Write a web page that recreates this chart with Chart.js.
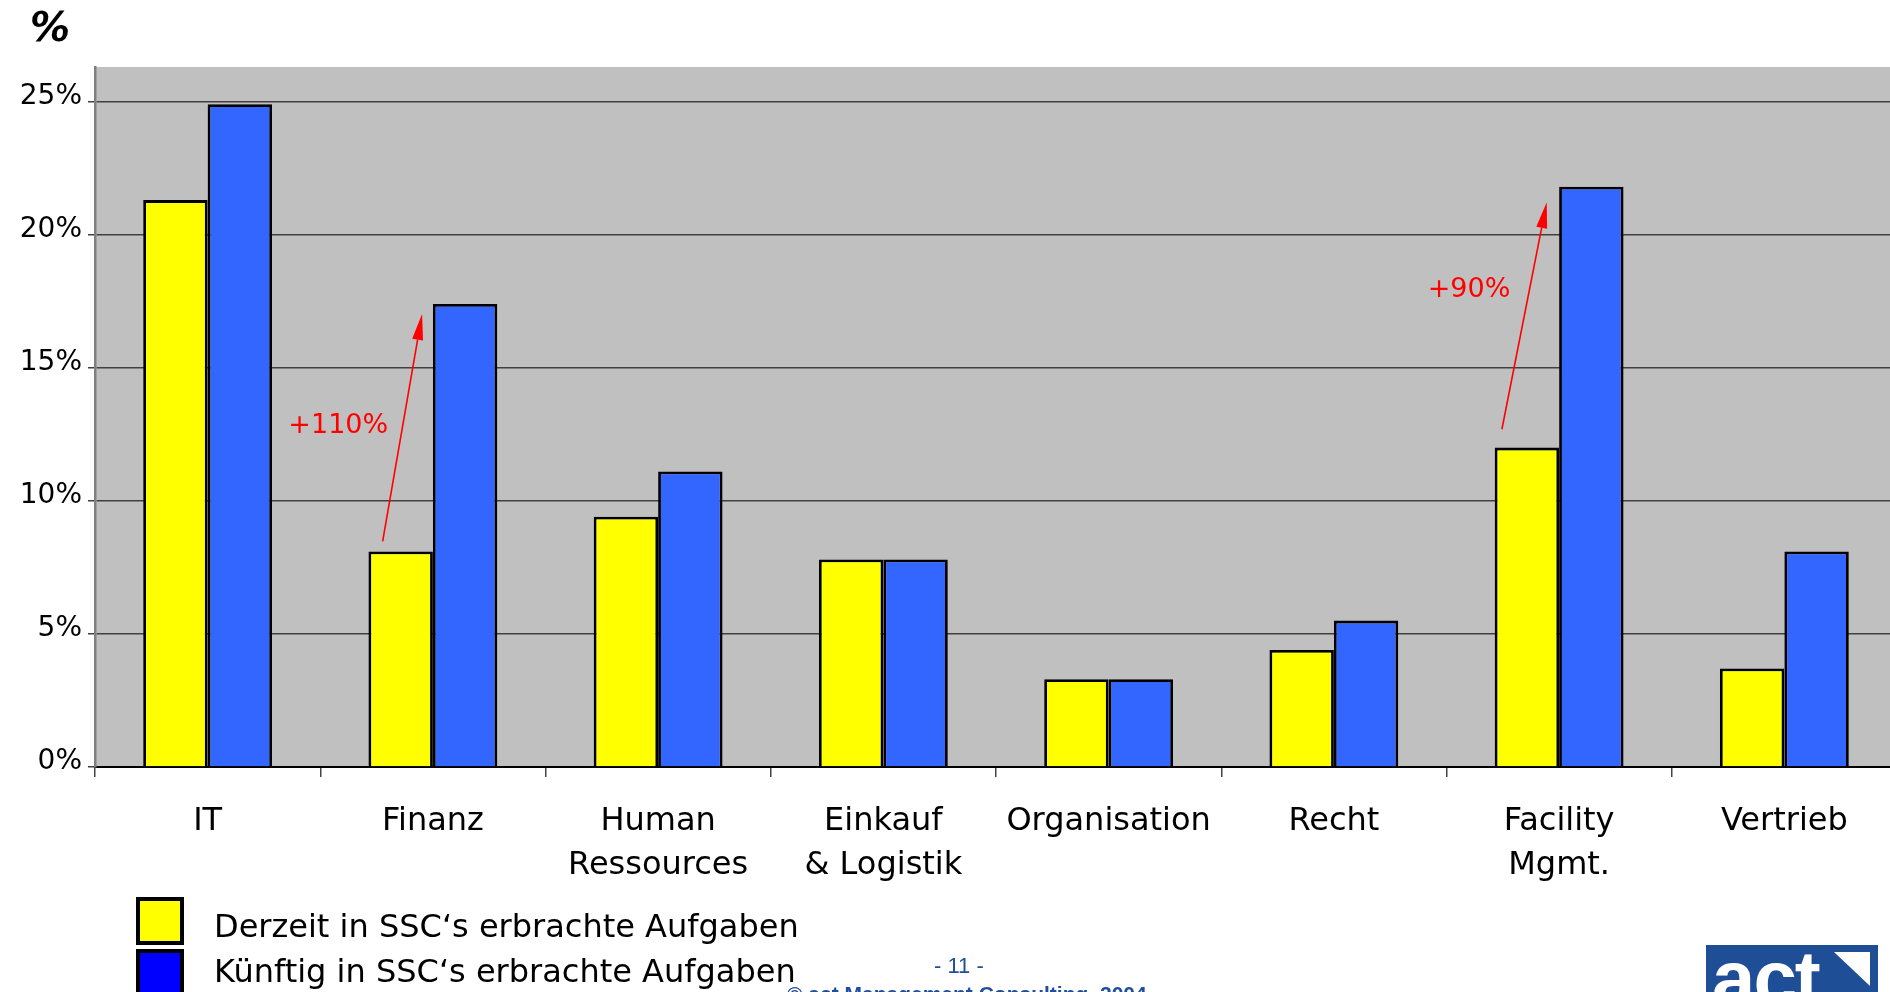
<!DOCTYPE html>
<html>
<head>
<meta charset="utf-8">
<script src="https://cdn.jsdelivr.net/npm/chart.js@4.4.1/dist/chart.umd.min.js"></script>
<style>
  html, body { margin: 0; padding: 0; width: 1890px; height: 992px; overflow: hidden; background: #fff; }
  #wrap { position: absolute; left: 0; top: 0; width: 1897px; height: 992px; }
  .txt { position: absolute; white-space: nowrap; line-height: 1; }
  #unit { left: 30px; top: 4px; font: italic bold 40px "DejaVu Sans", sans-serif; color: #000; }
  .legend-box { position: absolute; left: 136px; width: 40px; height: 40px; border: 4px solid #000; }
  .legend-text { position: absolute; left: 214px; font: 32px "DejaVu Sans", sans-serif; color: #000; white-space: nowrap; line-height: 1; }
  #page { left: 934px; top: 953px; font: 22px "Liberation Sans", Arial, sans-serif; color: #1f4e9e; }
  #copy { left: 787px; top: 982px; font: bold 21px "Liberation Sans", Arial, sans-serif; color: #1f4e9e; }
  #logo { position: absolute; left: 1706px; top: 945px; width: 172px; height: 60px; background: #1e4f96; overflow: hidden; }
  #logo span { position: absolute; left: 6px; top: -6px; font: bold 78px "Liberation Sans", Arial, sans-serif; color: #fff; line-height: 1; letter-spacing: -2px; }
  #logo i { position: absolute; left: 128px; top: 7px; width: 0; height: 0; border-top: 34px solid #fff; border-left: 36px solid transparent; }
</style>
</head>
<body>
<div id="wrap"><canvas id="chart" width="1897" height="992"></canvas></div>
<div id="unit" class="txt">%</div>
<div id="legend"></div>
<div id="page" class="txt">- 11 -</div>
<div id="copy" class="txt">© act Management Consulting, 2004</div>
<div id="logo"><span>act</span><i></i></div>
<script>
// categories and values (percent)
const categories = ['IT', 'Finanz', ['Human', 'Ressources'], ['Einkauf', '& Logistik'], 'Organisation', 'Recht', ['Facility', 'Mgmt.'], 'Vertrieb'];
const derzeit = [21.3, 8.1, 9.4, 7.8, 3.3, 4.4, 12.0, 3.7];
const kuenftig = [24.9, 17.4, 11.1, 7.8, 3.3, 5.5, 21.8, 8.1];
const seriesNames = ['Derzeit in SSC\u2018s erbrachte Aufgaben', 'K\u00fcnftig in SSC\u2018s erbrachte Aufgaben'];
const yTicks = [0, 5, 10, 15, 20, 25];

// growth arrows: category index, [offset, value] from -> to, label position
const growthLabels = ['+110%', '+90%'];
const growthCategory = [1, 6];
const growthFrom = [[-0.223, 8.48], [-0.254, 12.69]];
const growthTo = [[-0.048, 17.02], [-0.055, 21.22]];
const growthText = [[-0.42, 12.81], [-0.40, 17.92]];

const legendColors = ['#ffff00', '#0000ff'];

const legend = document.getElementById('legend');
seriesNames.forEach((name, i) => {
  const box = document.createElement('div');
  box.className = 'legend-box';
  box.style.top = (897 + i * 52) + 'px';
  box.style.background = legendColors[i];
  legend.appendChild(box);
  const label = document.createElement('div');
  label.className = 'legend-text';
  label.style.top = (910 + i * 45) + 'px';
  label.textContent = name;
  legend.appendChild(label);
});

const plotBackground = {
  id: 'plotBackground',
  beforeDraw(chart) {
    const { ctx, chartArea } = chart;
    ctx.save();
    ctx.fillStyle = '#c0c0c0';
    ctx.fillRect(chartArea.left, chartArea.top, chartArea.right - chartArea.left, chartArea.bottom - chartArea.top);
    ctx.restore();
  }
};

const growthArrows = {
  id: 'growthArrows',
  afterDatasetsDraw(chart) {
    const { ctx } = chart;
    const x = chart.scales.x, y = chart.scales.y;
    ctx.save();
    ctx.strokeStyle = '#ff0000';
    ctx.fillStyle = '#ff0000';
    ctx.lineWidth = 1.6;
    growthCategory.forEach((c, i) => {
      const x1 = x.getPixelForValue(c + growthFrom[i][0]);
      const y1 = y.getPixelForValue(growthFrom[i][1]);
      const x2 = x.getPixelForValue(c + growthTo[i][0]);
      const y2 = y.getPixelForValue(growthTo[i][1]);
      const ang = Math.atan2(y2 - y1, x2 - x1);
      const head = 26, half = 5.5;
      const bx = x2 - head * Math.cos(ang), by = y2 - head * Math.sin(ang);
      ctx.beginPath();
      ctx.moveTo(x1, y1);
      ctx.lineTo(bx, by);
      ctx.stroke();
      ctx.beginPath();
      ctx.moveTo(x2, y2);
      ctx.lineTo(bx + half * Math.sin(ang), by - half * Math.cos(ang));
      ctx.lineTo(bx - half * Math.sin(ang), by + half * Math.cos(ang));
      ctx.closePath();
      ctx.fill();

      ctx.font = '27px "DejaVu Sans", sans-serif';
      ctx.textAlign = 'center';
      ctx.textBaseline = 'middle';
      ctx.fillText(growthLabels[i], x.getPixelForValue(c + growthText[i][0]), y.getPixelForValue(growthText[i][1]));
    });
    ctx.restore();
  }
};

new Chart(document.getElementById('chart'), {
  type: 'bar',
  data: {
    labels: categories,
    datasets: [{
      label: seriesNames[0],
      data: derzeit,
      backgroundColor: '#ffff00',
      borderColor: '#000',
      borderWidth: 2.8
    }, {
      label: seriesNames[1],
      data: kuenftig,
      backgroundColor: '#3366ff',
      borderColor: '#000',
      borderWidth: 2.8
    }]
  },
  options: {
    responsive: false,
    animation: false,
    layout: { padding: { top: 67, left: 0, right: 0, bottom: 0 } },
    datasets: { bar: { categoryPercentage: 0.572, barPercentage: 1.0 } },
    plugins: { legend: { display: false }, tooltip: { enabled: false } },
    scales: {
      x: {
        grid: { display: true, drawOnChartArea: false, drawTicks: true, tickLength: 10, color: '#444', lineWidth: 1.5 },
        border: { display: true, color: '#000', width: 2 },
        ticks: { color: '#000', padding: 23, maxRotation: 0, autoSkip: false, font: { family: 'DejaVu Sans', size: 32, lineHeight: 1.36 } },
        afterFit: (s) => { s.height = 225; }
      },
      y: {
        min: 0,
        max: 26.3,
        afterBuildTicks: (s) => { s.ticks = yTicks.map(v => ({ value: v })); },
        grid: { color: '#404040', lineWidth: 1.5, drawTicks: true, tickLength: 7 },
        border: { display: true, color: '#808080', width: 2.5 },
        ticks: { color: '#000', padding: 6, labelOffset: -5, font: { family: 'DejaVu Sans', size: 28 }, callback: (v) => v + '%' },
        afterFit: (s) => { s.width = 95; }
      }
    }
  },
  plugins: [plotBackground, growthArrows]
});
</script>
</body>
</html>
